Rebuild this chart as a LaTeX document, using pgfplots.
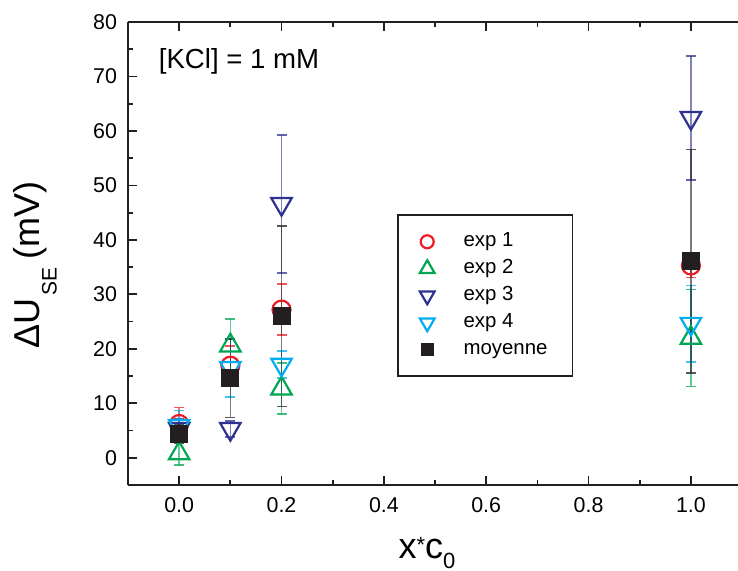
\documentclass[border=0pt]{standalone}
\usepackage{pgfplots}
\pgfplotsset{compat=1.18}
\usepackage{fontspec}
\setmainfont{Liberation Sans}
\definecolor{cred}{HTML}{ED1C24}
\definecolor{cgreen}{HTML}{00A651}
\definecolor{cdblue}{HTML}{2E3192}
\definecolor{clblue}{HTML}{00AEEF}
\definecolor{cblack}{HTML}{231F20}
\begin{document}
\begin{tikzpicture}
\begin{axis}[
  scale only axis, width=305pt, height=231.5pt,
  xmin=-0.1, xmax=1.092, ymin=-5, ymax=80,
  axis x line*=box, axis y line*=left,
  xtick={0,0.2,0.4,0.6,0.8,1.0}, minor x tick num=1,
  ytick={0,10,20,30,40,50,60,70,80}, minor y tick num=1,
  tick align=inside, major tick length=4.5pt, minor tick length=2.5pt,
  axis line style={line width=1pt, cblack},
  every tick/.style={line width=0.9pt, cblack},
  tick label style={font=\fontsize{10.7}{12}\selectfont},
  /pgf/number format/assume math mode=true,
  xticklabel style={yshift=-2.5pt, /pgf/number format/.cd, fixed, fixed zerofill, precision=1},
  yticklabel style={xshift=-2pt},
  xlabel={x\raisebox{3pt}{\fontsize{11}{12}\selectfont *}c\raisebox{-5pt}{\fontsize{11}{12}\selectfont 0}},
  ylabel={ΔU\hspace{1.5pt}\raisebox{-8.3pt}{\fontsize{10.5}{12}\selectfont SE}\hspace{4pt}(mV)},
  every axis x label/.style={at={(axis description cs:0.49,-0.158)}, anchor=base, font=\fontsize{18}{20}\selectfont},
  every axis y label/.style={at={(axis description cs:-0.1443,0.476)}, rotate=90, anchor=base, font=\fontsize{18}{20}\selectfont},
  error bars/y dir=both, error bars/y explicit,
  error bars/error bar style={line width=0.8pt, draw opacity=0.6},
  error bars/error mark options={rotate=90, mark size=2.5pt, line width=0.8pt, draw opacity=0.75},
  legend style={at={(axis cs:0.4258,44.67)}, anchor=north west, draw=cblack, line width=0.8pt,
    font=\fontsize{10.2}{11}\selectfont, inner xsep=11pt, inner ysep=7.25pt, row sep=1.5pt, column sep=13pt,
    nodes={inner sep=1.5pt, text height=7pt, text depth=2pt}},
  legend cell align=left,
  legend image post style={/tikz/every mark/.append style={scale=0.72}},
]
\addplot[only marks, color=cred, mark=o, mark size=4.5pt, mark options={line width=1.1pt}]
  coordinates {(0,6.2) +- (0,3.0) (0.1,16.9) +- (0,3.6) (0.2,27.2) +- (0,4.7) (1.0,35.3) +- (0,2.2)};
\addlegendentry{exp 1}
\addplot[only marks, color=cgreen, mark=triangle, mark size=5.9pt, mark options={line width=1.1pt}]
  coordinates {(0,0.8) +- (0,2.1) (0.1,20.6) +- (0,4.9) (0.2,12.7) +- (0,4.7) (1.0,22.0) +- (0,8.9)};
\addlegendentry{exp 2}
\addplot[only marks, color=cdblue, mark=triangle, mark size=5.9pt, mark options={rotate=180, line width=1.1pt}]
  coordinates {(0,5.3) +- (0,1.8) (0.1,5.3) +- (0,1.5) (0.2,46.6) +- (0,12.7) (1.0,62.4) +- (0,11.4)};
\addlegendentry{exp 3}
\addplot[only marks, color=clblue, mark=triangle, mark size=5.9pt, mark options={rotate=180, line width=1.1pt}]
  coordinates {(0,5.85) +- (0,2.85) (0.1,16.5) +- (0,5.3) (0.2,17.1) +- (0,2.5) (1.0,24.6) +- (0,7.0)};
\addlegendentry{exp 4}
\addplot[only marks, color=cblack, mark=square*, mark size=4.25pt, mark options={line width=0.5pt, fill=cblack}]
  coordinates {(0,4.4) +- (0,1.8) (0.1,14.6) +- (0,7.2) (0.2,26.0) +- (0,16.6) (1.0,36.1) +- (0,20.5)};
\addlegendentry{moyenne\hspace{4pt}}
\node[font=\fontsize{13.8}{15}\selectfont] at (axis cs:0.117,72.8) {[KCl] = 1 mM};
\end{axis}
\pgfresetboundingbox
\useasboundingbox (current axis.south west) ++(-64pt,-43pt) rectangle ++(369pt,285.5pt);
\end{tikzpicture}
\end{document}
